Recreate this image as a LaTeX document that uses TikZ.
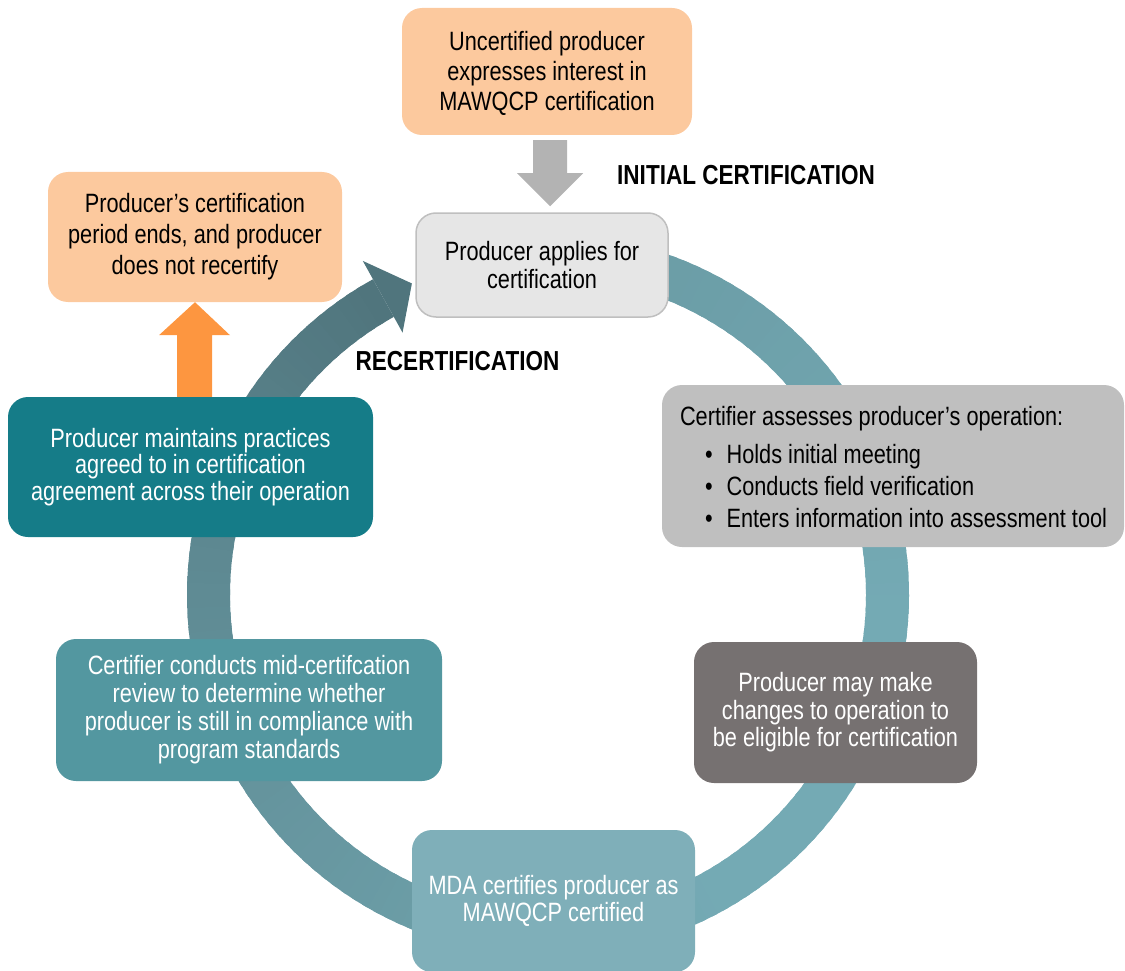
\documentclass[tikz,border=0pt]{standalone}
\usepackage{fontspec}
\setmainfont{Liberation Sans}[FakeStretch=0.82]
\usetikzlibrary{calc,backgrounds}

\definecolor{peach}{HTML}{FCC99E}
\definecolor{orangearrow}{HTML}{FD9640}
\definecolor{arrowgray}{HTML}{B3B3B3}
\definecolor{applyfill}{HTML}{E6E6E6}
\definecolor{applyedge}{HTML}{BFBFBF}
\definecolor{assessgray}{HTML}{BFBFBF}
\definecolor{changegray}{HTML}{767171}
\definecolor{mdateal}{HTML}{7FAFB9}
\definecolor{midteal}{HTML}{5397A0}
\definecolor{deepteal}{HTML}{157C88}
\definecolor{ringlight}{HTML}{74AAB4}
\definecolor{ringdark}{HTML}{4E727A}

\begin{document}
\begin{tikzpicture}[x=1pt,y=1pt,
  box/.style={rounded corners=20pt, inner sep=0pt, align=center},
  bodyfont/.style={font=\fontsize{26.5pt}{#1}\selectfont},
  caption/.style={font=\bfseries\fontsize{27.5pt}{30pt}\selectfont, inner sep=0pt}]
\useasboundingbox (0,0) rectangle (1125,-971);

% ---- process steps ----
\node[box, bodyfont=30pt, fill=peach, minimum width=290pt, minimum height=127pt]
  (interest) at (547,-71.5) {\rule{0pt}{24pt}Uncertified producer\\expresses interest in\\MAWQCP certification};
\node[box, bodyfont=28pt, fill=applyfill, draw=applyedge, line width=1.5pt,
  minimum width=252pt, minimum height=104pt]
  (apply) at (542,-265) {Producer applies for\\certification};
\node[box, bodyfont=31pt, fill=peach, minimum width=294pt, minimum height=130pt]
  (ends) at (195,-237) {Producer’s certification\\period ends, and producer\\does not recertify};
\node[box, bodyfont=26.7pt, fill=deepteal, text=white, minimum width=365pt, minimum height=140pt]
  (maintain) at (190.5,-467) {Producer maintains practices\\agreed to in certification\\agreement across their operation};
\node[box, fill=assessgray, minimum width=462pt, minimum height=162pt]
  (assess) at (893,-466) {};
\node[bodyfont=32pt, anchor=west, align=left, inner sep=0pt]
  (assesstext) at ($(assess.west)+(18pt,-1pt)$) {Certifier assesses producer’s operation:\\[6pt]
  \hspace*{25pt}\textbullet\hspace*{14pt}Holds initial meeting\\
  \hspace*{25pt}\textbullet\hspace*{14pt}Conducts field verification\\
  \hspace*{25pt}\textbullet\hspace*{14pt}Enters information into assessment tool};
\node[box, bodyfont=27.5pt, fill=changegray, text=white, minimum width=283pt, minimum height=141pt]
  (changes) at (835.5,-712.5) {Producer may make\\changes to operation to\\be eligible for certification};
\node[box, bodyfont=27pt, fill=mdateal, text=white, minimum width=283pt, minimum height=142pt]
  (mda) at (553.5,-901) {MDA certifies producer as\\MAWQCP certified};
\node[box, bodyfont=28pt, fill=midteal, text=white, minimum width=386pt, minimum height=142pt]
  (midreview) at (249,-710) {Certifier conducts mid-certifcation\\review to determine whether\\producer is still in compliance with\\program standards};

% ---- phase captions ----
\node[caption] (initial) at (746,-175) {INITIAL CERTIFICATION};
\node[caption] (recert) at (457.5,-361) {RECERTIFICATION};

\begin{pgfonlayer}{background}
  % cycle ring, shaded along its length
  \begin{scope}[shift={(548,-595)}]
    \foreach \a in {82,80,...,-238} {
      \pgfmathtruncatemacro{\w}{\a>-0.5 ? 75+25*(80-\a)/80 :
        (\a>-60.5 ? 100 : (\a>-180.5 ? 100-55*(-60-\a)/120 : 45-40*(-180-\a)/60))}
      \colorlet{segc}{ringlight!\w!ringdark}
      \fill[segc] (\a:318pt) arc[start angle=\a, end angle=\a-3, radius=318pt]
        -- (\a-3:361pt) arc[start angle=\a-3, end angle=\a, radius=361pt] -- cycle;
    }
    % ring arrowhead pointing back to the application step
    \coordinate (headtip) at (113.6:340pt);
    \fill[ringlight!5!ringdark] (119:300pt) -- (headtip) -- (119:382pt) -- cycle;
  \end{scope}

  % grey block arrow: interest -> apply
  \fill[arrowgray] let \p1=($(interest.south)+(3pt,-5pt)$), \p2=($(apply.north)+(0,6pt)$) in
    (\x1-17pt,\y1) -- (\x1+17pt,\y1) -- (\x1+17pt,\y2+33pt) -- (\x1+33pt,\y2+33pt)
    -- (\x1,\y2) -- (\x1-33pt,\y2+33pt) -- (\x1-17pt,\y2+33pt) -- cycle;

  % orange block arrow: maintain -> ends
  \fill[orangearrow] let \p1=($(ends.south)$), \p2=($(maintain.north)+(0,-2pt)$) in
    (\x1-18pt,\y2) -- (\x1+17pt,\y2) -- (\x1+17pt,\y1-33pt) -- (\x1+35pt,\y1-33pt)
    -- (\x1,\y1) -- (\x1-36pt,\y1-33pt) -- (\x1-18pt,\y1-33pt) -- cycle;
\end{pgfonlayer}
\end{tikzpicture}
\end{document}
